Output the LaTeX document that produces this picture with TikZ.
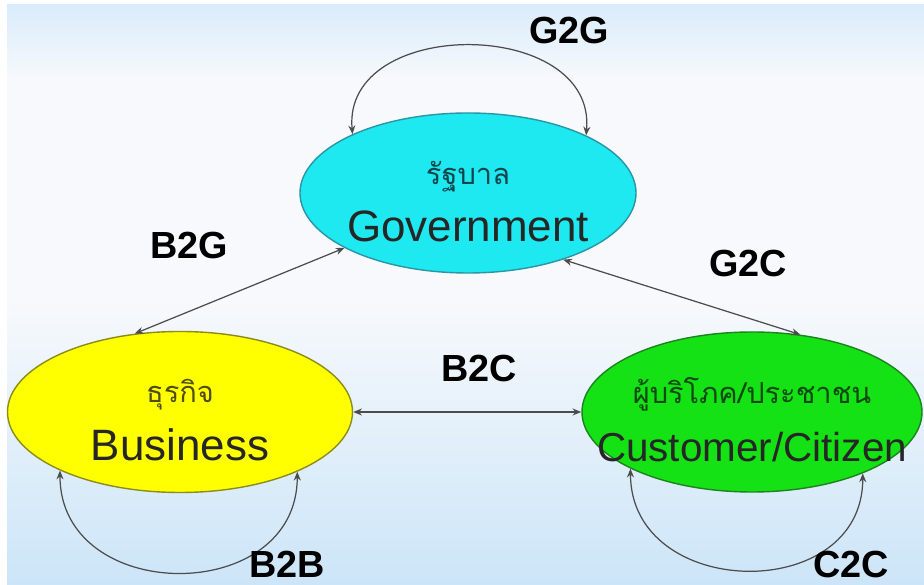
\documentclass[tikz,border=0pt]{standalone}
\usepackage{fontspec}
\setmainfont{Liberation Sans}
\newfontfamily\thaifont[Script=Thai]{Loma}
\usetikzlibrary{shapes.geometric,arrows.meta}
\definecolor{govfill}{RGB}{30,232,240}
\definecolor{govline}{RGB}{40,150,165}
\definecolor{busfill}{RGB}{255,255,0}
\definecolor{busline}{RGB}{140,140,30}
\definecolor{cusfill}{RGB}{20,226,20}
\definecolor{cusline}{RGB}{30,130,30}
\definecolor{bgtop}{RGB}{218,236,251}
\definecolor{bgmid}{RGB}{247,249,252}
\definecolor{bgbot}{RGB}{204,229,248}
\newcommand\thline[2]{\makebox[0pt]{\rule{0pt}{23pt}\thaifont\fontsize{16.5}{31}\selectfont\color{#1}#2}}
\newcommand\enline[1]{\makebox[0pt]{#1}}
\tikzset{
  party/.style={ellipse,draw,line width=.8pt,inner sep=0pt,align=center,text=black!85,font=\fontsize{25}{31}\selectfont},
  link/.style={draw=black!70,line width=.7pt,{Stealth[length=5pt,width=4pt]}-{Stealth[length=5pt,width=4pt]}},
  tag/.style={inner sep=1pt,font=\bfseries\fontsize{21.5}{25}\selectfont}
}
\begin{document}
\begin{tikzpicture}
\useasboundingbox (0,0) rectangle (18.48,11.7);
\fill[white] (0,0) rectangle (18.48,11.7);
\shade[top color=bgtop,bottom color=bgmid] (0.14,10.1) rectangle (18.48,11.6);
\fill[bgmid] (0.14,5.7) rectangle (18.48,10.1);
\shade[top color=bgmid,bottom color=bgbot] (0.14,0) rectangle (18.48,5.7);
\node[party,fill=govfill,draw=govline,minimum width=6.72cm,minimum height=3.2cm] (gov) at (9.36,7.84) {\thline{govline!45!black}{รัฐบาล}\\[1pt]\enline{Government}};
\node[party,fill=busfill,draw=busline,minimum width=6.9cm,minimum height=3.22cm] (bus) at (3.6,3.46) {\thline{busline!55!black}{ธุรกิจ}\\[2pt]\enline{Business}};
\node[party,fill=cusfill,draw=cusline,minimum width=6.8cm,minimum height=3.2cm,font=\fontsize{23}{31}\selectfont] (cus) at (15.04,3.46) {\thline{cusline!55!black}{ผู้บริโภค/ประชาชน}\\[2pt]\enline{Customer/Citizen}};
\draw[link] (gov.153) to[out=95,in=85,looseness=1.3] (gov.26);
\draw[link] (bus.120) -- (gov.204);
\draw[link] (gov.325) -- (cus.58);
\draw[link] (bus.east) -- (cus.west);
\draw[link] (bus.206) to[out=-90,in=-90,looseness=1.45] (bus.333);
\draw[link] (cus.205) to[out=-90,in=-90,looseness=1.45] (cus.331);
\node[tag] (g2g) at (11.38,11.08) {G2G};
\node[tag] (b2g) at (3.78,6.78) {B2G};
\node[tag] (g2c) at (14.96,6.42) {G2C};
\node[tag] (b2c) at (9.58,4.32) {B2C};
\node[tag] (b2b) at (5.74,0.42) {B2B};
\node[tag] (c2c) at (17.02,0.42) {C2C};
\end{tikzpicture}
\end{document}
